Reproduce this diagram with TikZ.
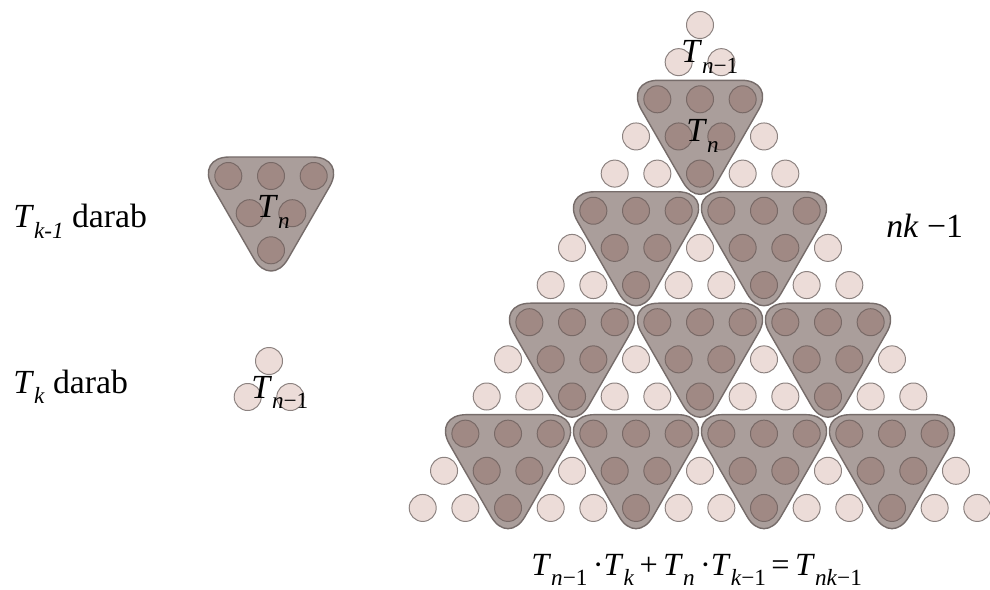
\documentclass[tikz,border=0pt]{standalone}
\usepackage{fontspec}
\setmainfont[Ligatures=TeX]{Liberation Serif}
\definecolor{ballfill}{HTML}{ECDCD8}
\definecolor{balldraw}{HTML}{8C8280}
\definecolor{darkfill}{HTML}{A08984}
\definecolor{darkdraw}{HTML}{786966}
\definecolor{trifill}{HTML}{AA9E9B}
\definecolor{tridraw}{HTML}{766C6A}
\newcommand{\idx}[1]{\raisebox{-.31em}{\fontsize{16.5pt}{16.5pt}\selectfont #1}}

\begin{document}
\begin{tikzpicture}[
  x=0.025cm,y=-0.025cm,
  ball/.style={circle,draw=balldraw,fill=ballfill,line width=.7pt,
    minimum size=.675cm,inner sep=0pt},
  darkball/.style={ball,draw=darkdraw,fill=darkfill},
  tri/.style={draw=tridraw,fill=trifill,line width=1pt,rounded corners=.85cm},
  lbl/.style={font=\fontsize{24pt}{24pt}\selectfont,inner sep=0pt,anchor=base west}
]
  \useasboundingbox (0,0) rectangle (990,590);
  % triangles of T_n
  \foreach \a in {0,...,3}{
    \foreach \b in {0,...,\a}{
      \pgfmathtruncatemacro{\row}{2+3*\a}
      \pgfmathsetmacro{\xl}{700+(3*\b-\row/2)*42.66-32.9}
      \pgfmathsetmacro{\xr}{700+(3*\b+2-\row/2)*42.66+32.9}
      \pgfmathsetmacro{\xm}{700+(3*\b+1-\row/2)*42.66}
      \pgfmathsetmacro{\yt}{25+\row*37.15-19}
      \pgfmathsetmacro{\yb}{25+(\row+2)*37.15+38}
      \draw[tri] (\xl,\yt) -- (\xr,\yt) -- (\xm,\yb) -- cycle;
    }
  }
  % all balls, rows 0..nk-2
  \foreach \row in {0,...,13}{
    \foreach \col in {0,...,\row}{
      \pgfmathtruncatemacro{\lay}{\row<2 ? 3 : mod(\row-2,3)}
      \pgfmathtruncatemacro{\dk}{and(\col>=\lay, mod(\col-\lay,3)+\lay<=2)}
      \ifnum\dk=1 \def\st{darkball}\else\def\st{ball}\fi
      \node[\st] (c-\row-\col) at ({700+(\col-\row/2)*42.66},{25+\row*37.15}) {};
    }
  }
  % left side
  \draw[tri] (195.4,157) -- (346.6,157) -- (271,288.3) -- cycle;
  \foreach \n/\x/\y in {1/228.3/176,2/271/176,3/313.7/176,4/249.7/213.2,5/292.3/213.2,6/271/250.3}
    \node[darkball] (l-\n) at (\x,\y) {};
  \foreach \n/\x/\y in {1/269/361,2/247.7/397,3/290.3/397}
    \node[ball] (s-\n) at (\x,\y) {};
  \node[lbl] (lab-tn1) at (681,63) {\textit{T}\idx{\textit{n}−1}};
  \node[lbl] (lab-tn) at (686,142) {\textit{T}\idx{\textit{n}}};
  \node[lbl] (lab-ltn) at (257,218) {\textit{T}\idx{\textit{n}}};
  \node[lbl] (lab-ltn1) at (251,398) {\textit{T}\idx{\textit{n}−1}};
  \node[lbl] (lab-rows) at (886,237) {\textit{nk} −1};
  \node[lbl] (lab-a) at (13,228) {\textit{T}\idx{\textit{k-1}} darab};
  \node[lbl] (lab-b) at (13,393) {\textit{T}\idx{\textit{k}} darab};
  \node[lbl,font=\fontsize{23pt}{23pt}\selectfont] (lab-eq) at (531,575)
    {\textit{T}\idx{\textit{n}−1}\,·\textit{T}\idx{\textit{k}}\,+\,\textit{T}\idx{\textit{n}}\,·\textit{T}\idx{\textit{k}−1}\,=\,\textit{T}\idx{\textit{nk}−1}};
\end{tikzpicture}
\end{document}
